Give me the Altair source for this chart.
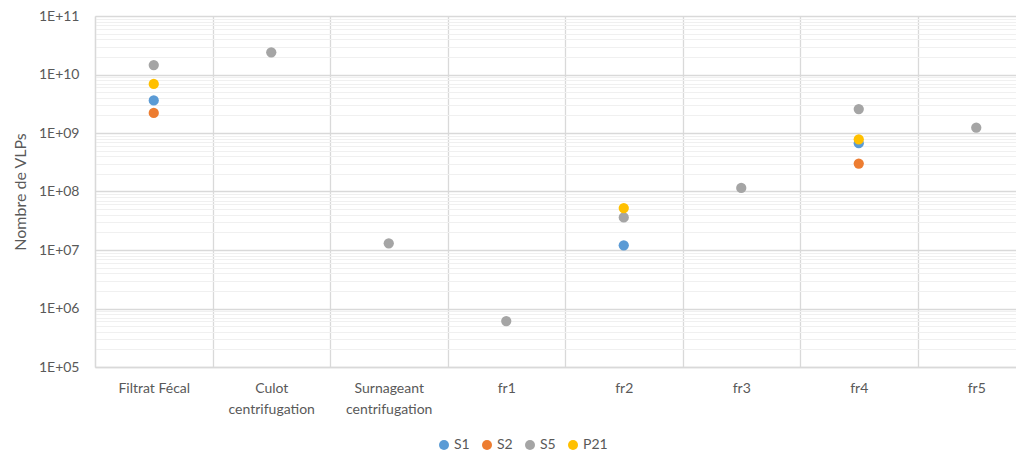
import altair as alt
import pandas as pd

categories = ["Filtrat Fécal", "Culot\ncentrifugation", "Surnageant\ncentrifugation",
              "fr1", "fr2", "fr3", "fr4", "fr5"]
series_names = ["S1", "S2", "S5", "P21"]
series_colors = ["#5B9BD5", "#ED7D31", "#A5A5A5", "#FFC000"]

s1_cat = ["Filtrat Fécal", "fr2", "fr4"]
s1_val = [3.6e9, 1.2e7, 6.7e8]
s2_cat = ["Filtrat Fécal", "fr4"]
s2_val = [2.2e9, 3.0e8]
s5_cat = ["Filtrat Fécal", "Culot\ncentrifugation", "Surnageant\ncentrifugation",
          "fr1", "fr2", "fr3", "fr4", "fr5"]
s5_val = [1.45e10, 2.4e10, 1.3e7, 6.1e5, 3.6e7, 1.15e8, 2.57e9, 1.23e9]
p21_cat = ["Filtrat Fécal", "fr2", "fr4"]
p21_val = [6.9e9, 5.2e7, 7.8e8]

rows = []
for name, cats, vals in [("S1", s1_cat, s1_val), ("S2", s2_cat, s2_val),
                         ("S5", s5_cat, s5_val), ("P21", p21_cat, p21_val)]:
    for c, v in zip(cats, vals):
        rows.append({"cat": c, "val": v, "serie": name, "order": series_names.index(name)})
df = pd.DataFrame(rows)

tick_values = [m * 10 ** d for d in range(5, 11) for m in range(1, 10)] + [1e11]
is_major = "abs(round(log(datum.value)/LN10) - log(datum.value)/LN10) < 1e-6"

FONT = "Lato"
TXT = "#595959"

chart = alt.Chart(df).mark_circle(size=105, opacity=1).encode(
    x=alt.X("cat:N", sort=categories, scale=alt.Scale(type="band", domain=categories,
                                                     paddingInner=0, paddingOuter=0,
                                                     range=[0, 940]),
            axis=alt.Axis(title=None, labelAngle=0, ticks=False, tickBand="extent",
                          grid=True, gridColor="#D9D9D9", gridWidth=1.3,
                          domainColor="#D9D9D9", domainWidth=1.3,
                          labelExpr="isValid(datum.value) ? split(datum.value, '\\n') : ''",
                          labelLineHeight=21, labelPadding=14,
                          labelFont=FONT, labelFontSize=14, labelColor=TXT)),
    y=alt.Y("val:Q", scale=alt.Scale(type="log", domain=[1e5, 1e11], nice=False),
            axis=alt.Axis(title="Nombre de VLPs", values=tick_values, ticks=False,
                          grid=True,
                          gridColor={"condition": {"test": is_major, "value": "#D9D9D9"},
                                     "value": "#F0F0F0"},
                          gridWidth={"condition": {"test": is_major, "value": 1.3},
                                     "value": 1},
                          domainColor="#D9D9D9", domainWidth=1.3,
                          labelOverlap=False,
                          labelExpr=is_major + " ? '1E+' + (datum.value < 1e10 ? '0' : '') + round(log(datum.value)/LN10) : ''",
                          labelPadding=16, labelFont=FONT, labelFontSize=14, labelColor=TXT,
                          titleFont=FONT, titleFontSize=16, titleColor=TXT,
                          titleFontWeight="normal", titlePadding=10)),
    color=alt.Color("serie:N", sort=series_names,
                    scale=alt.Scale(domain=series_names, range=series_colors),
                    legend=alt.Legend(title=None, orient="none", direction="horizontal",
                                      legendX=342, legendY=422, symbolType="circle",
                                      symbolSize=100, labelFont=FONT, labelFontSize=14,
                                      labelColor=TXT, columnPadding=10, labelOffset=3,
                                      symbolStrokeWidth=0)),
    order=alt.Order("order:Q"),
).properties(
    width=921, height=351,
    autosize=alt.AutoSizeParams(type="none"),
    padding={"left": 87, "top": 8, "right": 0, "bottom": 86},
).configure_view(stroke=None)

chart.save("out.html", embed_options={"renderer": "svg", "actions": False})
